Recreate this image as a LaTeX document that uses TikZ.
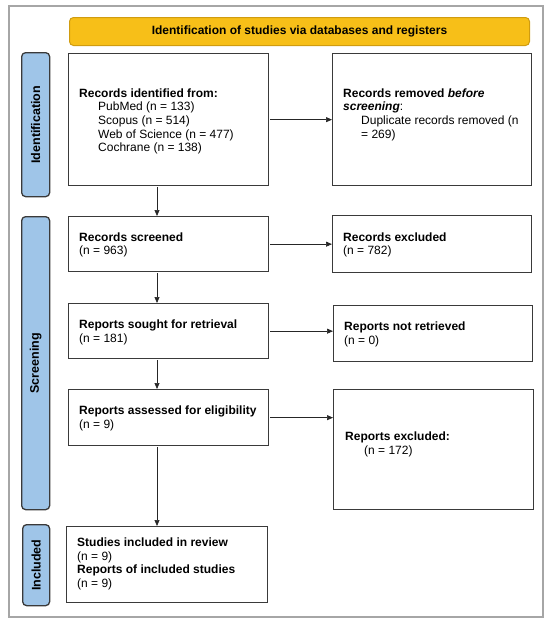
\documentclass[tikz,border=0pt]{standalone}
\usepackage{fontspec}
\setmainfont{Liberation Sans}
\usetikzlibrary{arrows.meta}
\definecolor{gold}{HTML}{F7BF18}
\definecolor{goldline}{HTML}{D09C10}
\definecolor{sideblue}{HTML}{9FC5E8}
\definecolor{framegrey}{HTML}{A6A6A6}
\definecolor{boxline}{HTML}{3A3A3A}
\begin{document}
\begin{tikzpicture}[x=1pt,y=-1pt,
  box/.style={draw=boxline, line width=1.3pt, fill=white, anchor=north west, inner sep=0pt},
  side/.style={draw=boxline, line width=1.3pt, fill=sideblue, rounded corners=4pt, anchor=north west, inner sep=0pt},
  header/.style={draw=goldline, line width=1pt, fill=gold, rounded corners=4pt, anchor=north west, inner sep=0pt, font=\fontsize{12}{13.5}\selectfont\bfseries},
  sidetxt/.style={rotate=90, inner sep=0pt, font=\fontsize{12.5}{13.5}\selectfont\bfseries},
  txt/.style={anchor=north west, inner sep=0pt, align=left, font=\fontsize{12}{13.6}\selectfont},
  arr/.style={-{Triangle[length=6pt,width=5pt]}, line width=0.7pt, draw=black!85, shorten <=1pt},
]
\useasboundingbox (0,0) rectangle (556,624);
\node[draw=framegrey, line width=1.6pt, anchor=north west, inner sep=0pt, minimum width=534pt, minimum height=611pt] (frame) at (8,5) {};

\node[header, minimum width=460pt, minimum height=28pt] (hdr) at (69,17) {Identification of studies via databases and registers};

% side labels
\node[side, minimum width=28pt, minimum height=144pt] (idlab) at (21,52) {};
\node[sidetxt] (idtxt) at (idlab.center) {Identification};
\node[side, minimum width=28pt, minimum height=293pt] (sclab) at (21,216) {};
\node[sidetxt] (sctxt) at (sclab.center) {Screening};
\node[side, minimum width=27pt, minimum height=81pt] (inlab) at (22,524) {};
\node[sidetxt] (intxt) at (inlab.center) {Included};

% boxes
\node[box, minimum width=200pt, minimum height=132pt] (rid) at (68,53) {};
\node[box, minimum width=199pt, minimum height=132pt] (rem) at (332,53) {};
\node[box, minimum width=200pt, minimum height=55pt] (scr) at (68,216) {};
\node[box, minimum width=199pt, minimum height=57pt] (exc) at (332,215) {};
\node[box, minimum width=200pt, minimum height=55pt] (sou) at (68,303) {};
\node[box, minimum width=199pt, minimum height=56pt] (nre) at (333,305) {};
\node[box, minimum width=200pt, minimum height=56pt] (ass) at (68,389) {};
\node[box, minimum width=200pt, minimum height=120pt] (rex) at (333,389) {};
\node[box, minimum width=201pt, minimum height=76pt] (stu) at (66,526) {};

% texts
\node[txt] (ridt) at (79,88.5) {\textbf{Records identified from:}\\
\hspace*{19pt}PubMed (n = 133)\\
\hspace*{19pt}Scopus (n = 514)\\
\hspace*{19pt}Web of Science (n = 477)\\
\hspace*{19pt}Cochrane (n = 138)};
\node[txt] (remt) at (343,88.5) {\textbf{Records removed \textit{before}}\\
\textbf{\textit{screening}}:\\
\hspace*{18pt}Duplicate records removed (n\\
\hspace*{18pt}= 269)};
\node[txt] (scrt) at (79,232.5) {\textbf{Records screened}\\(n = 963)};
\node[txt] (exct) at (343,232.5) {\textbf{Records excluded}\\(n = 782)};
\node[txt] (sout) at (79,319.5) {\textbf{Reports sought for retrieval}\\(n = 181)};
\node[txt] (nret) at (344,321.5) {\textbf{Reports not retrieved}\\(n = 0)};
\node[txt] (asst) at (79,405.5) {\textbf{Reports assessed for eligibility}\\(n = 9)};
\node[txt] (rext) at (345,431.5) {\textbf{Reports excluded:}\\\hspace*{19pt}(n = 172)};
\node[txt] (stut) at (77,537.5) {\textbf{Studies included in review}\\(n = 9)\\
\textbf{Reports of included studies}\\(n = 9)};

% connectors
\coordinate (ax) at (157,0);
\draw[arr] (rid.east) -- (rem.west |- rid.east);
\draw[arr] (scr.east) -- (exc.west |- scr.east);
\draw[arr] (sou.east) -- (nre.west |- sou.east);
\draw[arr] (ass.east) -- (rex.west |- ass.east);
\draw[arr] (rid.south -| ax) -- (scr.north -| ax);
\draw[arr] (scr.south -| ax) -- (sou.north -| ax);
\draw[arr] (sou.south -| ax) -- (ass.north -| ax);
\draw[arr] (ass.south -| ax) -- (stu.north -| ax);
\end{tikzpicture}
\end{document}
